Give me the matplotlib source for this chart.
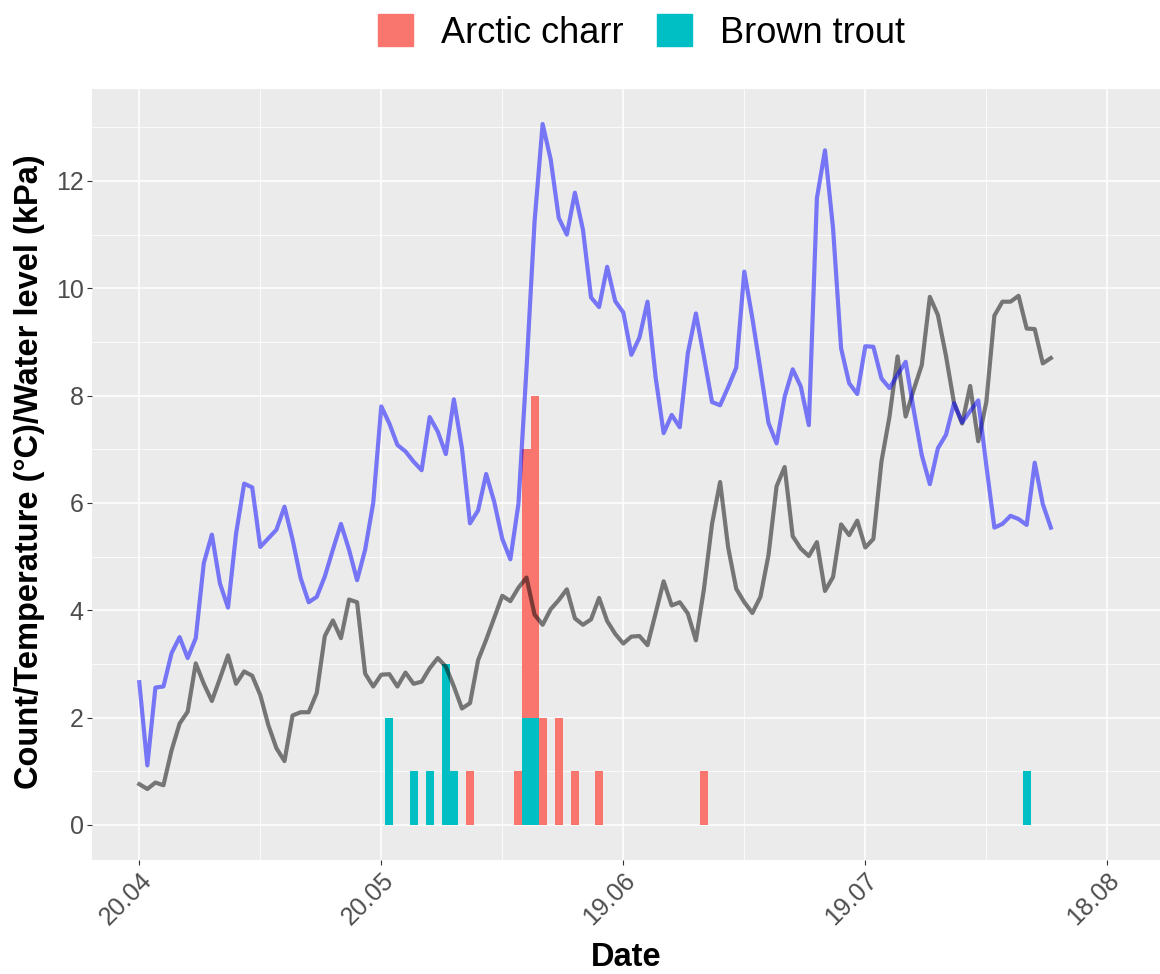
import datetime as dt
import numpy as np
import matplotlib
matplotlib.use("Agg")
import matplotlib.pyplot as plt
import matplotlib.dates as mdates
from matplotlib.patches import Patch

plt.rcParams['font.family'] = ['Liberation Sans', 'DejaVu Sans']

# daily series, starting 20.04
start = dt.date(2020, 4, 20)

water_level = [2.66, 1.11, 2.56, 2.58, 3.20, 3.50, 3.11, 3.48, 4.88, 5.41,
               4.50, 4.05, 5.43, 6.36, 6.29, 5.18, 5.34, 5.50, 5.93, 5.32,
               4.60, 4.15, 4.25, 4.63, 5.13, 5.61, 5.13, 4.56, 5.13, 6.00,
               7.80, 7.48, 7.08, 6.96, 6.77, 6.61, 7.60, 7.33, 6.91, 7.93,
               7.02, 5.62, 5.86, 6.54, 6.02, 5.33, 4.95, 5.98, 8.50, 11.24,
               13.06, 12.40, 11.31, 11.00, 11.78, 11.09, 9.83, 9.65, 10.40, 9.76,
               9.55, 8.76, 9.08, 9.75, 8.35, 7.30, 7.64, 7.41, 8.79, 9.53,
               8.72, 7.88, 7.82, 8.16, 8.52, 10.31, 9.44, 8.48, 7.49, 7.11,
               7.98, 8.49, 8.17, 7.45, 11.68, 12.57, 11.12, 8.88, 8.23, 8.03,
               8.92, 8.91, 8.32, 8.14, 8.39, 8.63, 7.73, 6.89, 6.35, 7.02,
               7.27, 7.86, 7.50, 7.71, 7.91, 6.70, 5.54, 5.61, 5.76, 5.70,
               5.59, 6.75, 5.98, 5.54]

temperature = [0.76, 0.67, 0.79, 0.74, 1.39, 1.89, 2.11, 3.01, 2.63, 2.31,
               2.73, 3.16, 2.63, 2.86, 2.78, 2.42, 1.86, 1.43, 1.19, 2.04,
               2.10, 2.10, 2.46, 3.52, 3.81, 3.48, 4.20, 4.15, 2.82, 2.58,
               2.80, 2.81, 2.58, 2.84, 2.63, 2.67, 2.92, 3.11, 2.95, 2.58,
               2.17, 2.27, 3.07, 3.45, 3.86, 4.27, 4.17, 4.42, 4.61, 3.92,
               3.73, 4.02, 4.19, 4.39, 3.85, 3.73, 3.83, 4.23, 3.80, 3.56,
               3.38, 3.51, 3.52, 3.35, 3.94, 4.54, 4.09, 4.15, 3.94, 3.44,
               4.40, 5.61, 6.39, 5.17, 4.40, 4.15, 3.95, 4.25, 5.03, 6.31,
               6.67, 5.38, 5.15, 5.01, 5.27, 4.36, 4.62, 5.60, 5.40, 5.67,
               5.17, 5.33, 6.77, 7.61, 8.73, 7.61, 8.11, 8.57, 9.84, 9.50,
               8.74, 7.86, 7.48, 8.18, 7.15, 7.88, 9.49, 9.75, 9.75, 9.86,
               9.25, 9.24, 8.60, 8.70]

charr_dates = ["2020-05-31", "2020-06-06", "2020-06-07", "2020-06-08", "2020-06-09",
               "2020-06-11", "2020-06-13", "2020-06-16", "2020-06-29"]
charr_counts = [1, 1, 7, 8, 2, 2, 1, 1, 1]

trout_dates = ["2020-05-21", "2020-05-24", "2020-05-26", "2020-05-28", "2020-05-29",
               "2020-06-07", "2020-06-08", "2020-08-08"]
trout_counts = [2, 1, 1, 3, 1, 2, 2, 1]

tick_dates = ["2020-04-20", "2020-05-20", "2020-06-19", "2020-07-19", "2020-08-18"]
minor_dates = ["2020-05-05", "2020-06-04", "2020-07-04", "2020-08-03"]


def to_num(strings):
    return mdates.date2num([dt.date.fromisoformat(s) for s in strings])


x_days = mdates.date2num([start + dt.timedelta(days=i) for i in range(len(water_level))])
x0 = mdates.date2num(start)

W, H = 1160, 974
fig = plt.figure(figsize=(W / 100, H / 100), dpi=100)
ax = fig.add_axes([92 / W, 1 - 860 / H, (W - 92) / W, (860 - 89) / H])
ax.set_facecolor("#EBEBEB")
for s in ax.spines.values():
    s.set_visible(False)

# counts (one bin per day)
ax.bar(to_num(charr_dates), charr_counts, width=1.0, color="#F8766D", zorder=2)
ax.bar(to_num(trout_dates), trout_counts, width=1.0, color="#00BFC4", zorder=2)

# temperature and water level
ax.plot(x_days, temperature, color="black", alpha=0.5, lw=3, zorder=3)
ax.plot(x_days, water_level, color="blue", alpha=0.5, lw=3, zorder=3)

ax.set_xlim(x0 - 5.86, x0 + 126.53)
ax.set_ylim(-0.653, 13.713)

ax.set_xticks(to_num(tick_dates))
ax.set_xticks(to_num(minor_dates), minor=True)
ax.xaxis.set_major_formatter(mdates.DateFormatter("%d.%m"))
ax.set_yticks(np.arange(0, 13, 2))
ax.set_yticks(np.arange(1, 14, 2), minor=True)

ax.grid(which="major", color="white", lw=1.1)
ax.grid(which="minor", color="white", lw=0.55)
ax.set_axisbelow(True)

ax.tick_params(which="major", length=3.6, width=0.8, color="#333333",
               labelsize=18, labelcolor="#4D4D4D", pad=2.5)
ax.tick_params(which="minor", length=0)
for lab in ax.get_xticklabels():
    lab.set_rotation(45)
    lab.set_ha("right")
    lab.set_va("top")
    lab.set_rotation_mode("anchor")

fig.text(626 / W, 1 - 966 / H, "Date", fontsize=23.5, fontweight="bold",
         ha="center", va="baseline")
fig.text(30 / W, 1 - 472 / H, "Count/Temperature (°C)/Water level (kPa)",
         fontsize=23.5, fontweight="bold", rotation=90, ha="center", va="center")

handles = [Patch(color="#F8766D", label="Arctic charr"),
           Patch(color="#00BFC4", label="Brown trout")]
fig.legend(handles=handles, loc="center", bbox_to_anchor=(641.5 / W, 1 - 32.5 / H),
           ncol=2, frameon=False, fontsize=26, handlelength=0.97, handleheight=0.97,
           handletextpad=0.8, columnspacing=0.9)

fig.savefig("out.png", dpi=100)
